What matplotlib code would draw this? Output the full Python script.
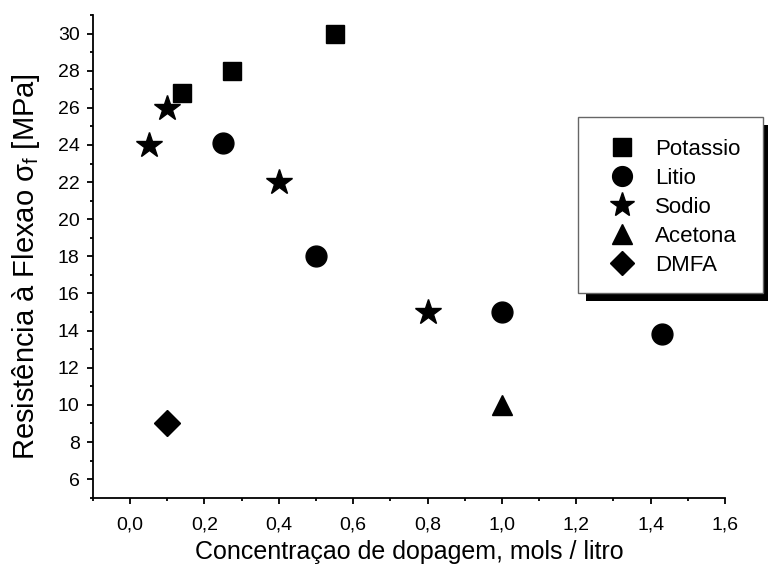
import matplotlib
matplotlib.use("Agg")
import matplotlib.pyplot as plt
from matplotlib.ticker import MultipleLocator, FuncFormatter
from matplotlib.patches import Rectangle

plt.rcParams['font.family'] = ['Liberation Sans', 'DejaVu Sans']
plt.rcParams['mathtext.fontset'] = 'custom'
plt.rcParams['mathtext.rm'] = 'Liberation Sans'
plt.rcParams['mathtext.it'] = 'Liberation Sans'
plt.rcParams['mathtext.sf'] = 'Liberation Sans'

potassio_x = [0.14, 0.275, 0.55]
potassio_y = [26.8, 28.0, 30.0]
litio_x = [0.25, 0.5, 1.0, 1.43]
litio_y = [24.1, 18.0, 15.0, 13.8]
sodio_x = [0.05, 0.1, 0.4, 0.8]
sodio_y = [24.0, 26.0, 22.0, 15.0]
acetona_x = [1.0]
acetona_y = [10.0]
dmfa_x = [0.1]
dmfa_y = [9.0]

W, H = 768, 569
fig = plt.figure(figsize=(W / 100, H / 100), dpi=100)
ax = fig.add_axes([0.121, 0.1253, 0.823, 0.8483])

kw = dict(linestyle='none', color='black', markeredgecolor='black')
ax.plot(potassio_x, potassio_y, marker='s', markersize=13, label='Potassio', **kw)
ax.plot(litio_x, litio_y, marker='o', markersize=15, label='Litio', **kw)
ax.plot(sodio_x, sodio_y, marker='*', markersize=19, label='Sodio', **kw)
ax.plot(acetona_x, acetona_y, marker='^', markersize=15, label='Acetona', **kw)
ax.plot(dmfa_x, dmfa_y, marker='D', markersize=13, label='DMFA', **kw)

ax.set_xlim(-0.1, 1.6)
ax.set_ylim(5, 31)
ax.spines['top'].set_visible(False)
ax.spines['right'].set_visible(False)
for s in ['left', 'bottom']:
    ax.spines[s].set_linewidth(1.3)

ax.xaxis.set_minor_locator(MultipleLocator(0.1))
ax.yaxis.set_minor_locator(MultipleLocator(1))
ax.xaxis.set_major_formatter(FuncFormatter(lambda v, p: f"{v:.1f}".replace('.', ',')))
ax.yaxis.set_major_formatter(FuncFormatter(lambda v, p: f"{int(round(v))}"))
ax.set_yticks([6, 8, 10, 12, 14, 16, 18, 20, 22, 24, 26, 28, 30])
ax.set_xticks([0.0, 0.2, 0.4, 0.6, 0.8, 1.0, 1.2, 1.4, 1.6])
ax.tick_params(which='major', direction='out', length=4.5, width=1.3, labelsize=14)
ax.tick_params(axis='x', which='major', pad=9)
ax.tick_params(axis='y', which='major', pad=5)
ax.tick_params(which='minor', direction='out', length=2.5, width=1.3)

ax.set_xlabel('Concentraçao de dopagem, mols / litro', fontsize=18, labelpad=5)
ax.set_ylabel(r'Resistência à Flexao $\sigma_f$ [MPa]', fontsize=21)
ax.yaxis.set_label_coords(-0.081, 0.478)

# legend box with solid shadow (pixel layout)
bx0, by0, bx1, by1 = 578, 117, 763, 293
off = 8
def px2fig(x, y):
    return x / W, 1 - y / H
sx, sy = px2fig(bx0 + off, by1 + off)
fig.patches.append(Rectangle((sx, sy), (bx1 - bx0) / W, (by1 - by0) / H,
                             transform=fig.transFigure, facecolor='black',
                             edgecolor='none', zorder=4))
fx, fy = px2fig(bx0, by1)
fig.patches.append(Rectangle((fx, fy), (bx1 - bx0) / W, (by1 - by0) / H,
                             transform=fig.transFigure, facecolor='white',
                             edgecolor='#666666', linewidth=1.0, zorder=4.5))

lx, ly = px2fig(604, 139)
leg = fig.legend(loc='upper left', bbox_to_anchor=(lx, ly), bbox_transform=fig.transFigure,
                 fontsize=16, frameon=False, borderaxespad=0, borderpad=0,
                 handletextpad=0.7, labelspacing=0.36, handlelength=1.6, markerscale=0.95)
leg.set_zorder(6)

fig.savefig('out.png', dpi=100)
